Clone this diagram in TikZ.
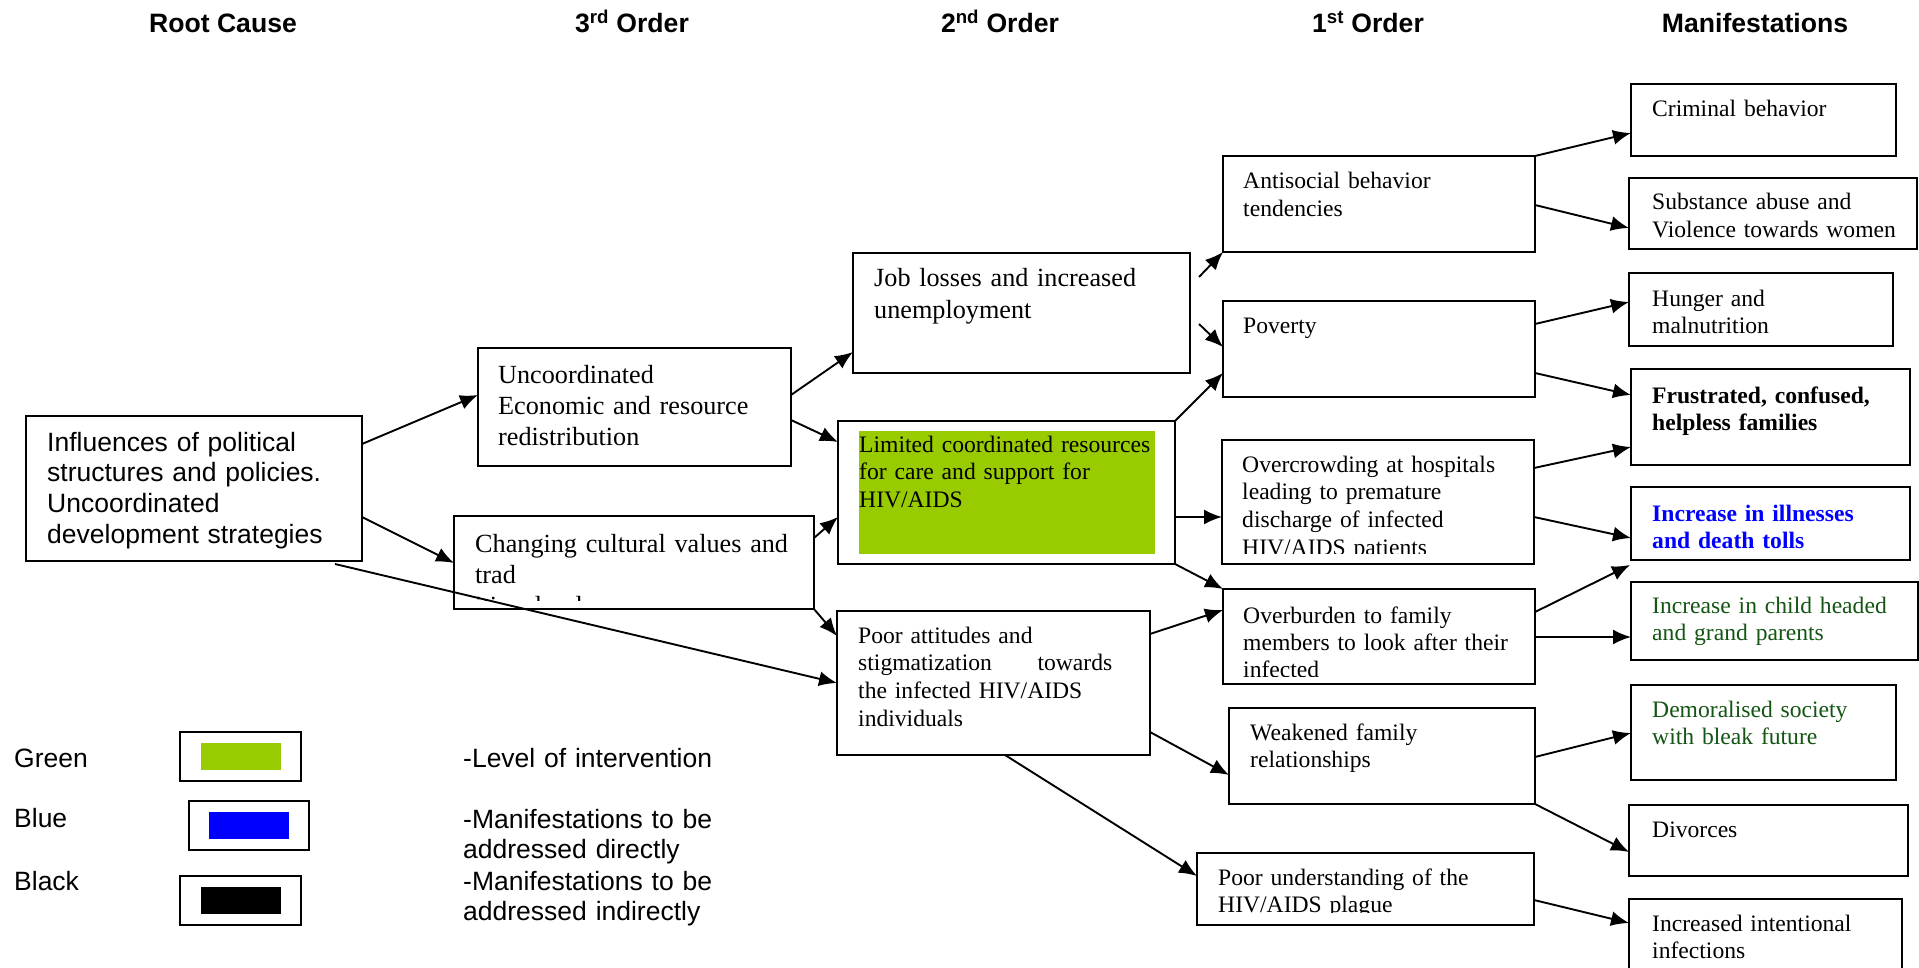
\documentclass[tikz,border=0pt]{standalone}
\usepackage{fontspec}
\setmainfont{Liberation Serif}
\setsansfont{Liberation Sans}
\usetikzlibrary{arrows.meta,calc}
\definecolor{limegr}{RGB}{153,204,0}
\definecolor{dkgreen}{RGB}{20,85,20}
\definecolor{pureblue}{RGB}{0,0,255}
\newcommand\bx[5]{\node[boxst, minimum width={(#4-#2)*1pt}, minimum height={(#5-#3)*1pt}] (#1) at (#2,#3) {};}
\tikzset{
  boxst/.style={draw, line width=1.8pt, anchor=north west, inner sep=0pt, outer sep=0pt},
  tbig/.style={font=\fontsize{26.2}{31}\selectfont, anchor=base west, inner sep=0pt, align=left, text width=420pt},
  tsm/.style={font=\fontsize{23.6}{27.8}\selectfont, anchor=base west, inner sep=0pt, align=left, text width=400pt},
  tsans/.style={font=\sffamily\fontsize{26.5}{30.7}\selectfont, anchor=base west, inner sep=0pt, align=left, text width=420pt},
  hdr/.style={font=\sffamily\bfseries\fontsize{26.6}{30}\selectfont, anchor=base, inner sep=0pt},
  arr/.style={line width=1.9pt, -{Latex[length=18pt,width=15pt]}}
}
\begin{document}
\begin{tikzpicture}[x=1pt,y=-1pt]
\useasboundingbox (0,0) rectangle (1919,968);
\fill[white] (0,0) rectangle (1919,968);

% headers
\node[hdr] (h1) at (223,33) {Root Cause};
\node[hdr] (h2) at (632,33) {3\textsuperscript{rd} Order};
\node[hdr] (h3) at (1000,33) {2\textsuperscript{nd} Order};
\node[hdr] (h4) at (1368,33) {1\textsuperscript{st} Order};
\node[hdr] (h5) at (1755,33) {Manifestations};

% root
\bx{root}{26}{416}{362}{561}
\node[tsans] (root-t) at (47,451) {Influences of political\\structures and policies.\\Uncoordinated\\development strategies};

% 3rd order
\bx{unc}{478}{348}{791}{466}
\node[tbig] (unc-t) at (498,383) {Uncoordinated\\Economic and resource\\redistribution};
\bx{chg}{454}{516}{814}{609}
\begin{scope}
\clip (454,516) rectangle (814,600);
\node[tbig] (chg-t) at (475,552) {Changing cultural values and\\trad\\itional values};
\end{scope}

% 2nd order
\bx{job}{853}{253}{1190}{373}
\node[tbig, font=\fontsize{26.2}{32}\selectfont] (job-t) at (874,287) {Job losses and increased\\unemployment};
\fill[limegr] (859,431) rectangle (1155,554);
\bx{lim}{838}{421}{1175}{564}
\node[tsm] (lim-t) at (859,452) {Limited coordinated resources\\for care and support for\\HIV/AIDS};
\bx{poor}{837}{611}{1150}{755}
\node[tsm, text width=254pt] (poor-t) at (858,643) {Poor attitudes and\\stigmatization\hfill towards\\the infected HIV/AIDS\\individuals};

% 1st order
\bx{anti}{1223}{156}{1535}{252}
\node[tsm] (anti-t) at (1243,189) {Antisocial behavior\\tendencies};
\bx{pov}{1223}{301}{1535}{397}
\node[tsm] (pov-t) at (1243,333) {Poverty};
\bx{over}{1222}{440}{1534}{564}
\begin{scope}
\clip (1222,440) rectangle (1534,553);
\node[tsm] (over-t) at (1242,472) {Overcrowding at hospitals\\leading to premature\\discharge of infected\\HIV/AIDS patients};
\end{scope}
\bx{burden}{1223}{589}{1535}{684}
\begin{scope}
\clip (1223,589) rectangle (1535,676);
\node[tsm, font=\fontsize{23.6}{27.3}\selectfont] (burden-t) at (1243,623) {Overburden to family\\members to look after their\\infected};
\end{scope}
\bx{weak}{1229}{708}{1535}{804}
\node[tsm] (weak-t) at (1250,740) {Weakened family\\relationships};
\bx{und}{1197}{853}{1534}{925}
\begin{scope}
\clip (1197,853) rectangle (1534,912);
\node[tsm] (und-t) at (1218,885) {Poor understanding of the\\HIV/AIDS plague};
\end{scope}

% manifestations
\bx{crim}{1631}{84}{1896}{156}
\node[tsm] (crim-t) at (1652,117) {Criminal behavior};
\bx{subst}{1629}{178}{1917}{249}
\node[tsm] (subst-t) at (1652,210) {Substance abuse and\\Violence towards women};
\bx{hung}{1629}{273}{1893}{346}
\node[tsm] (hung-t) at (1652,306) {Hunger and\\malnutrition};
\bx{frus}{1631}{369}{1910}{465}
\node[tsm, font=\bfseries\fontsize{23.6}{27.8}\selectfont] (frus-t) at (1652,403) {Frustrated, confused,\\helpless families};
\bx{ill}{1631}{487}{1910}{560}
\node[tsm, font=\bfseries\fontsize{23.6}{27}\selectfont, text=pureblue] (ill-t) at (1652,521) {Increase in illnesses\\and death tolls};
\bx{child}{1631}{582}{1918}{660}
\node[tsm, text=dkgreen] (child-t) at (1652,613) {Increase in child headed\\and grand parents};
\bx{demo}{1631}{685}{1896}{780}
\node[tsm, text=dkgreen] (demo-t) at (1652,717) {Demoralised society\\with bleak future};
\bx{div}{1629}{805}{1908}{876}
\node[tsm] (div-t) at (1652,837) {Divorces};
\bx{intent}{1629}{899}{1902}{985}
\node[tsm] (intent-t) at (1652,931) {Increased intentional\\infections};

% arrows
\draw[arr] (root.east |- 0,444) -- (unc.west |- 0,395);
\draw[arr] (root.east |- 0,517) -- (chg.west |- 0,563);
\draw[arr] ($(root.south -| 335,0)+(0,3)$) -- (poor.west |- 0,683);
\draw[arr] (unc.east |- 0,395) -- (job.west |- 0,352);
\draw[arr] (unc.east |- 0,420) -- (lim.west |- 0,442);
\draw[arr] (chg.east |- 0,538) -- (lim.west |- 0,517);
\draw[arr] (chg.south east) -- (poor.west |- 0,636);
\draw[arr] ($(job.east |- 0,277)+(9,0)$) -- (anti.south west);
\draw[arr] ($(job.east |- 0,324)+(9,0)$) -- (pov.west |- 0,347);
\draw[arr] (lim.north east) -- (pov.west |- 0,373);
\draw[arr] (lim.east |- 0,517) -- (over.west |- 0,517);
\draw[arr] (lim.south east) -- (burden.north west);
\draw[arr] (poor.east |- 0,634) -- (burden.west |- 0,610);
\draw[arr] (poor.east |- 0,732) -- (weak.west |- 0,775);
\draw[arr] (poor.south -| 1005,0) -- (und.west |- 0,876);
\draw[arr] (anti.north east) -- (crim.west |- 0,133);
\draw[arr] (anti.east |- 0,205) -- (subst.west |- 0,228);
\draw[arr] (pov.east |- 0,324) -- (hung.west |- 0,302);
\draw[arr] (pov.east |- 0,373) -- (frus.west |- 0,395);
\draw[arr] (over.east |- 0,468) -- (frus.west |- 0,447);
\draw[arr] (over.east |- 0,517) -- (ill.west |- 0,538);
\draw[arr] (burden.east |- 0,612) -- ($(ill.south west)+(-1,5)$);
\draw[arr] (burden.east |- 0,637) -- (child.west |- 0,637);
\draw[arr] (weak.east |- 0,757) -- (demo.west |- 0,733);
\draw[arr] (weak.south east) -- (div.west |- 0,852);
\draw[arr] (und.east |- 0,900) -- (intent.west |- 0,923);

% legend
\node[tsans] (lg1) at (14,767) {Green};
\node[tsans] (lg2) at (14,827) {Blue};
\node[tsans] (lg3) at (14,890) {Black};
\bx{lgg}{180}{732}{301}{781}
\fill[limegr] (201,743) rectangle (281,770);
\bx{lgb}{189}{801}{309}{850}
\fill[pureblue] (209,812) rectangle (289,839);
\bx{lgk}{180}{876}{301}{925}
\fill[black] (201,887) rectangle (281,914);
\node[tsans] (ld1) at (463,767) {-Level of intervention};
\node[tsans] (ld2) at (463,828) {-Manifestations to be\\addressed directly};
\node[tsans] (ld3) at (463,890) {-Manifestations to be\\addressed indirectly};
\end{tikzpicture}
\end{document}
